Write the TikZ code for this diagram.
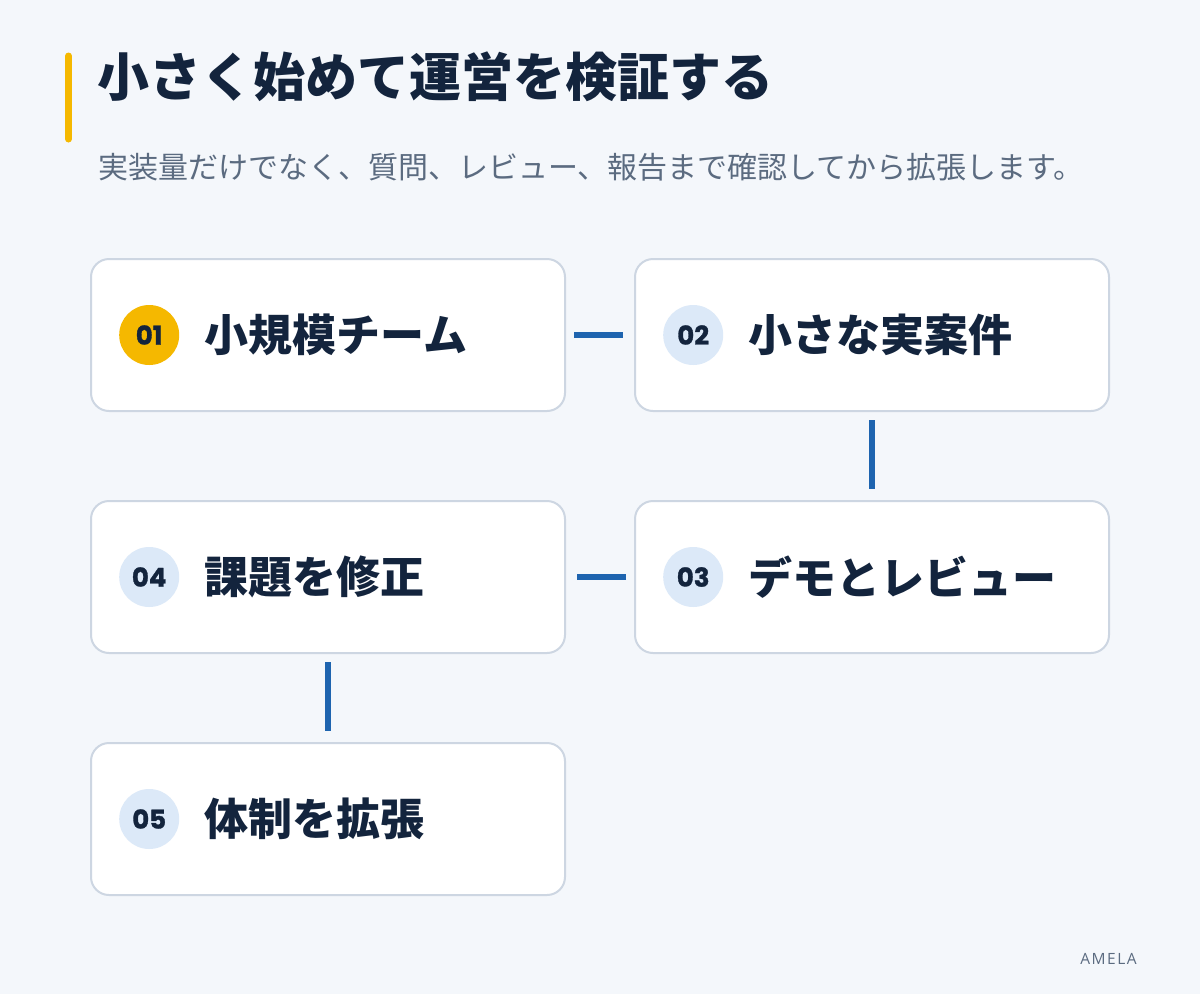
\documentclass[tikz,border=0pt]{standalone}
\usepackage{fontspec}
\setmainfont{Noto Sans CJK JP}
\newfontfamily\cjk{Noto Sans CJK JP}
\newfontfamily\numfont[BoldFeatures={FakeBold=1.2}]{Poppins}
\newfontfamily\brandfont[LetterSpace=10]{Open Sans}
\usetikzlibrary{positioning}
\definecolor{bgpage}{HTML}{F4F7FB}
\definecolor{ink}{HTML}{13243D}
\definecolor{subink}{HTML}{5B6B80}
\definecolor{cardline}{HTML}{CDD6E2}
\definecolor{linkblue}{HTML}{1E64AF}
\definecolor{badgeblue}{HTML}{DCE9F8}
\definecolor{accent}{HTML}{F5B800}
\tikzset{
	card/.style={draw=cardline,line width=2pt,fill=white,rounded corners=18pt,
		minimum width=474pt,minimum height=152pt,inner sep=0pt},
	badge/.style={circle,minimum size=60pt,inner sep=0pt,text=ink,
		font=\numfont\bfseries\fontsize{26}{26}\selectfont},
	cardtext/.style={inner sep=0pt,text=ink,font=\cjk\bfseries\fontsize{44}{44}\selectfont},
	link/.style={draw=linkblue,line width=5.5pt,line cap=butt,shorten <=8pt,shorten >=11pt}
}
\begin{document}
\begin{tikzpicture}[x=1pt,y=-1pt,line join=round,line cap=round]
	\fill[bgpage](0,0)rectangle(1200,994);
	\useasboundingbox(0,0)rectangle(1200,994);
	%%% tiêu đề
	\draw[accent,line width=7pt](68.5,56)--(68.5,139);
	\node[anchor=base west,inner sep=0pt,text=ink,font=\cjk\bfseries\fontsize{52}{52}\selectfont]
		(title) at (97,96) {小さく始めて運営を検証する};
	\node[anchor=base west,inner sep=0pt,text=subink,font=\cjk\fontsize{30}{30}\selectfont]
		(subtitle) at (98,178) {実装量だけでなく、質問、レビュー、報告まで確認してから拡張します。};
	%%% các bước
	\node[card](b1) at (328,335) {};
	\node[card](b2) at (872,335) {};
	\node[card](b3) at (872,577) {};
	\node[card](b4) at (328,577) {};
	\node[card](b5) at (328,819) {};
	\foreach \i/\c/\txt in {1/accent/小規模チーム,2/badgeblue/小さな実案件,3/badgeblue/デモとレビュー,4/badgeblue/課題を修正,5/badgeblue/体制を拡張}{
		\node[badge,fill=\c,right=29pt of b\i.west](n\i){0\i};
		\node[cardtext,right=25pt of n\i](t\i){\txt};
	}
	\draw[link](b1)--(b2);
	\draw[link](b2)--(b3);
	\draw[link](b3)--(b4);
	\draw[link](b4)--(b5);
	\node[anchor=base east,inner sep=0pt,text=subink,font=\brandfont\fontsize{15.5}{15.5}\selectfont]
		(brand) at (1137,964) {AMELA};
\end{tikzpicture}
\end{document}
